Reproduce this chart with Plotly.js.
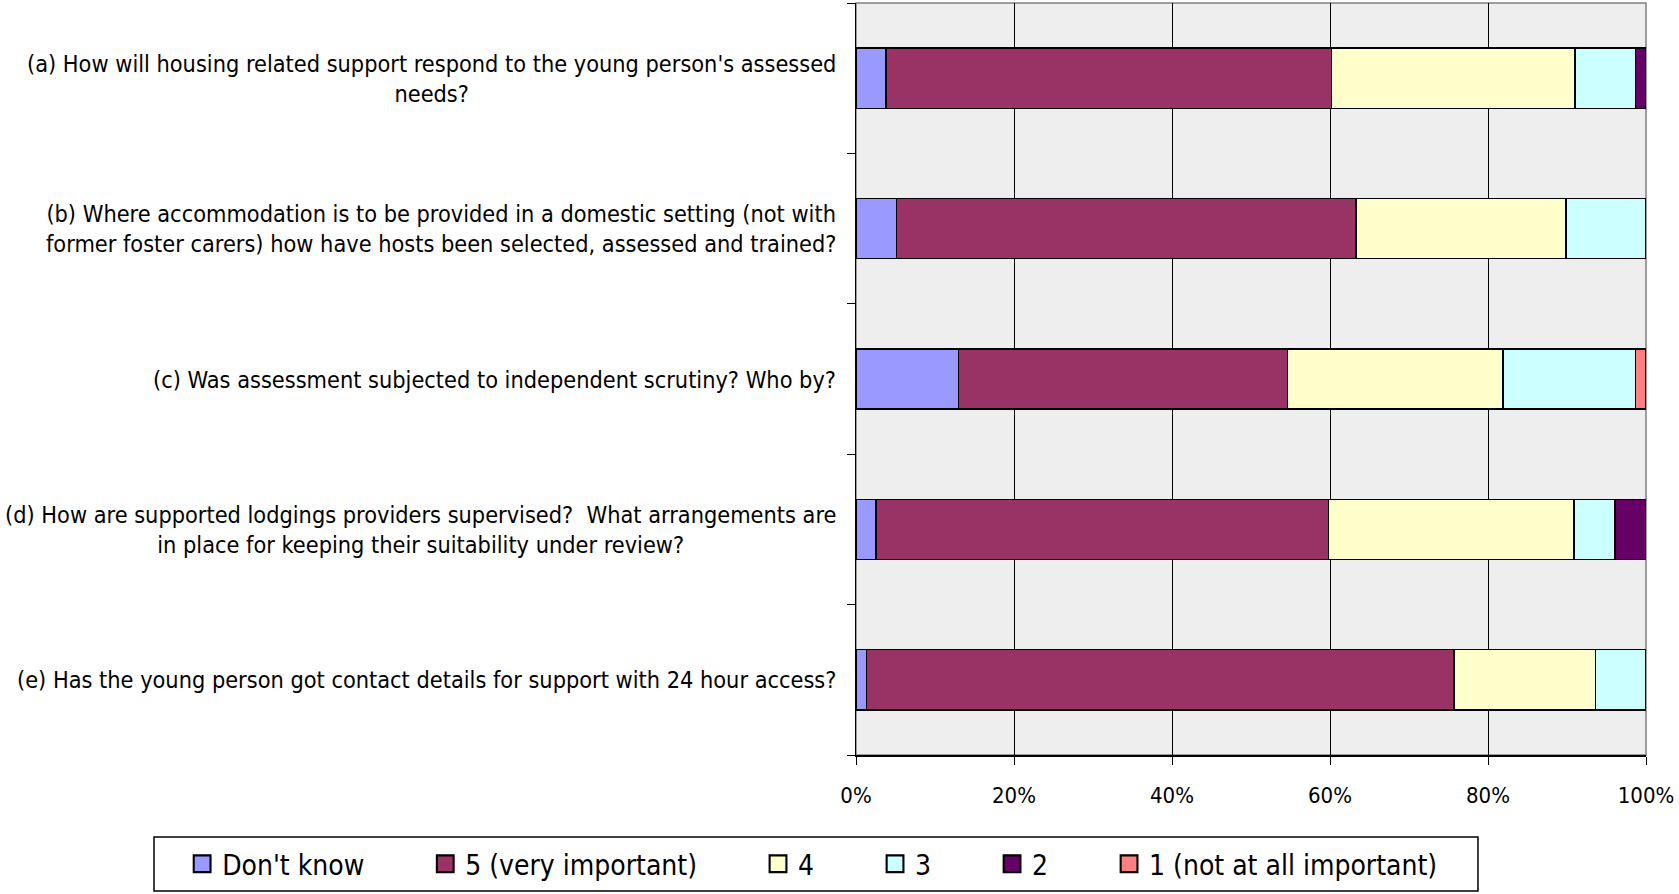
<!DOCTYPE html>
<html>
<head>
<meta charset="utf-8">
<script src="https://cdn.plot.ly/plotly-3.0.1.min.js"></script>
<style>
  html, body { margin: 0; padding: 0; background: #ffffff; }
  #chart { width: 1679px; height: 894px; }
</style>
</head>
<body>
<div id="chart"></div>
<script>
// Survey questions (top to bottom)
const questions = [
  "(a) How will housing related support respond to the young person's assessed<br>needs?",
  "(b) Where accommodation is to be provided in a domestic setting (not with<br>former foster carers) how have hosts been selected, assessed and trained?",
  "(c) Was assessment subjected to independent scrutiny? Who by?",
  "(d) How are supported lodgings providers supervised?  What arrangements are<br>in place for keeping their suitability under review?",
  "(e) Has the young person got contact details for support with 24 hour access?"
];

// Response categories and their colours
const seriesNames = ["Don't know", "5 (very important)", "4", "3", "2", "1 (not at all important)"];
const seriesColors = ["#9999FF", "#993366", "#FFFFCC", "#CCFFFF", "#660066", "#FF8080"];

// Share of responses (%) per question, one array per category
const dontKnow      = [3.8, 5.1, 13.0, 2.5, 1.3];
const veryImportant = [56.4, 58.2, 41.6, 57.3, 74.4];
const four          = [30.8, 26.6, 27.3, 31.1, 17.9];
const three         = [7.7, 10.1, 16.8, 5.2, 6.4];
const two           = [1.3, 0, 0, 3.9, 0];
const notImportant  = [0, 0, 1.3, 0, 0];

const seriesValues = [dontKnow, veryImportant, four, three, two, notImportant];

const xTicks = [0, 20, 40, 60, 80, 100];

const FONT = "DejaVu Sans Condensed, DejaVu Sans, sans-serif";

// Pad legend names so the entries spread out along the legend row
const pad = "\u00a0".repeat(7);

const traces = seriesNames.map((name, i) => ({
  type: "bar",
  orientation: "h",
  name: i < seriesNames.length - 1 ? name + pad : name,
  y: questions,
  x: seriesValues[i],
  marker: { color: seriesColors[i], line: { color: "#000000", width: 1.5 } },
  hoverinfo: "x+name"
}));

// Question labels, centred line by line, to the left of the plot area
const annotations = questions.map(q => ({
  xref: "paper", yref: "y",
  x: 0, y: q,
  xanchor: "right", yanchor: "middle",
  xshift: -18,
  text: q,
  align: "center",
  showarrow: false,
  font: { family: FONT, size: 23.3, color: "#000000" }
}));

const layout = {
  width: 1679,
  height: 894,
  margin: { l: 856, r: 33, t: 3, b: 139 },
  paper_bgcolor: "#ffffff",
  plot_bgcolor: "#EEEEEE",
  barmode: "stack",
  bargap: 0.6,
  showlegend: true,
  font: { family: FONT, size: 22, color: "#000000" },
  xaxis: {
    range: [0, 100],
    tickvals: xTicks,
    ticktext: xTicks.map(v => v + "%"),
    ticks: "outside",
    ticklen: 8,
    tickcolor: "#000000",
    ticklabelstandoff: 12,
    showgrid: true,
    gridcolor: "#000000",
    gridwidth: 1,
    showline: true,
    linecolor: "#000000",
    linewidth: 1.5,
    zeroline: false,
    tickfont: { family: FONT, size: 22, color: "#000000" },
    fixedrange: true
  },
  yaxis: {
    type: "category",
    categoryorder: "array",
    categoryarray: questions.slice().reverse(),
    tickson: "boundaries",
    ticks: "outside",
    ticklen: 8,
    tickcolor: "#000000",
    showticklabels: false,
    showgrid: false,
    showline: true,
    linecolor: "#000000",
    linewidth: 1.5,
    zeroline: false,
    fixedrange: true
  },
  shapes: [
    {
      // plot area frame
      type: "rect", xref: "paper", yref: "paper",
      x0: 0, x1: 1, y0: 0, y1: 1,
      line: { color: "#808080", width: 1.5 },
      layer: "below"
    },
    {
      // legend frame
      type: "rect", xref: "paper", yref: "paper",
      x0: -0.8886, x1: 0.7873, y0: -0.1809, y1: -0.109,
      line: { color: "#000000", width: 1.5 },
      fillcolor: "rgba(0,0,0,0)",
      layer: "above"
    }
  ],
  annotations: annotations,
  legend: {
    orientation: "h",
    xref: "paper", yref: "paper",
    x: -0.853, y: -0.145,
    xanchor: "left", yanchor: "middle",
    bgcolor: "rgba(0,0,0,0)",
    borderwidth: 0,
    traceorder: "normal",
    font: { family: FONT, size: 28, color: "#000000" },
    itemclick: false,
    itemdoubleclick: false
  }
};

Plotly.newPlot("chart", traces, layout, { displayModeBar: false, staticPlot: true })
  .then(gd => {
    // enlarge the legend swatches, keeping their existing placement
    gd.querySelectorAll(".legendpoints path").forEach(p => {
      const t = p.getAttribute("transform") || "";
      p.setAttribute("transform", (t + " scale(1.4)").trim());
    });
  });
</script>
</body>
</html>
